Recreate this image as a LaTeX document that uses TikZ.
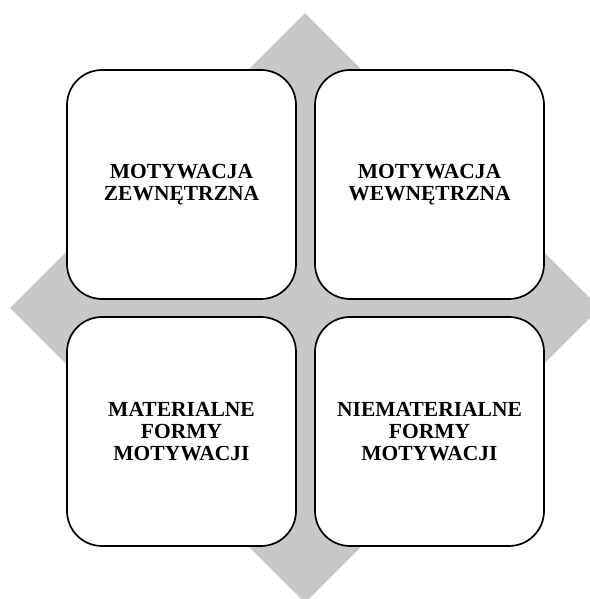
\documentclass[tikz,border=0pt]{standalone}
\usepackage{fontspec}
\setmainfont{Liberation Serif}
\usepackage{tikz}
\usetikzlibrary{positioning,shapes.geometric}
\definecolor{tlogray}{RGB}{200,200,200}

\begin{document}
\begin{tikzpicture}[x=1pt, y=1pt,
  box/.style={draw, line width=1.7pt, fill=white, rounded corners=35pt, align=center, minimum width=229pt, minimum height=229pt, inner sep=0pt, outer sep=0pt, font=\fontsize{21.5}{22}\selectfont\bfseries},
  romb/.style={diamond, fill=tlogray, minimum width=590pt, minimum height=590pt, inner sep=0pt, aspect=1}
]
\useasboundingbox (0,0) rectangle (589,599);
\node[romb] (tlo) at (305,291) {};
\node[box] (zew) at (181.5,414.5) {MOTYWACJA\\ZEWNĘTRZNA};
\node[box, right=19pt of zew] (wew) {MOTYWACJA\\WEWNĘTRZNA};
\node[box, below=18pt of zew] (mat) {MATERIALNE\\FORMY\\MOTYWACJI};
\node[box, below=18pt of wew] (niemat) {NIEMATERIALNE\\FORMY\\MOTYWACJI};
\end{tikzpicture}
\end{document}
